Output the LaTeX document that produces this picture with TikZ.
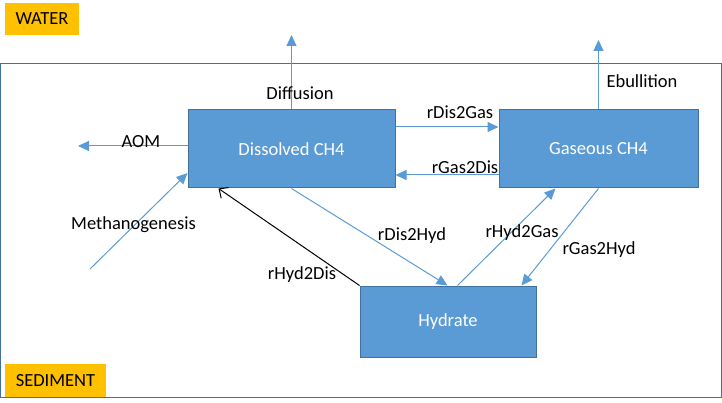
\documentclass[tikz,border=0pt]{standalone}
\usepackage{fontspec}
\setmainfont{Carlito}
\usetikzlibrary{arrows.meta,calc}
\definecolor{boxblue}{HTML}{5B9BD5}
\definecolor{boxedge}{HTML}{41719C}
\definecolor{labyellow}{HTML}{FFC000}
\begin{document}
\begin{tikzpicture}[x=1pt,y=-1pt,
  font=\fontsize{18.5}{22}\selectfont,
  procbox/.style={draw=boxedge, line width=1pt, fill=boxblue, text=white, inner sep=0pt},
  flow/.style={draw=boxblue, line width=1pt, -{Triangle[length=11pt,width=10pt]}},
  lab/.style={inner sep=0pt, text=black},
  zone/.style={fill=labyellow, inner sep=0pt, text=black}]
\useasboundingbox (0,0) rectangle (722,403);
% sediment frame
\draw[draw=boxedge, line width=1pt] (0.5,64) rectangle (721,397.5);
% zone labels
\node[zone, minimum width=74pt, minimum height=32pt] (water) at (42,19) {WATER};
\node[zone, minimum width=101pt, minimum height=33pt] (sed) at (55.5,380.5) {SEDIMENT};
% boxes
\node[procbox, minimum width=207pt, minimum height=78pt] (dis) at (291.5,149) {Dissolved CH4};
\node[procbox, minimum width=199pt, minimum height=78pt] (gas) at (598.5,149) {Gaseous CH4};
\node[procbox, minimum width=176pt, minimum height=71pt] (hyd) at (448,321.5) {Hydrate};
% free ends
\coordinate (diffend) at (291.5,35);
\coordinate (ebuend) at (598.5,40);
\coordinate (aomend) at (78,146);
\coordinate (methstart) at (90,269);
% connectors
\draw[flow] (dis.north) -- (diffend);
\draw[flow] ([yshift=3pt]dis.west) -- (aomend);
\draw[flow] (gas.north) -- (ebuend);
\draw[flow] ([yshift=22pt]dis.east) -- ([yshift=22pt]gas.west);
\draw[flow] ([yshift=-26pt]gas.west) -- ([yshift=-26pt]dis.east);
\draw[flow] (methstart) -- ([yshift=-24pt]dis.west);
\draw[draw=black, line width=1pt, -{Straight Barb[length=7pt,width=13pt]}] (hyd.north west) -- ([xshift=31pt]dis.south west);
\draw[flow] ([xshift=104pt]dis.south west) -- ([xshift=88pt]hyd.north west);
\draw[flow] ([xshift=98pt]hyd.north west) -- ([xshift=57pt]gas.south west);
\draw[flow] (gas.south) -- ([xshift=162pt]hyd.north west);
% labels
\node[lab] (ldiff) at (300,93) {Diffusion};
\node[lab] (lebu) at (642,81) {Ebullition};
\node[lab] (laom) at (141,142) {AOM};
\node[lab] (ld2g) at (460,112) {rDis2Gas};
\node[lab] (lg2d) at (465,167) {rGas2Dis};
\node[lab] (lmeth) at (133.5,225) {Methanogenesis};
\node[lab] (lh2d) at (302,275) {rHyd2Dis};
\node[lab] (ld2h) at (412,236) {rDis2Hyd};
\node[lab] (lh2g) at (522,233) {rHyd2Gas};
\node[lab] (lg2h) at (599,250) {rGas2Hyd};
\end{tikzpicture}
\end{document}
